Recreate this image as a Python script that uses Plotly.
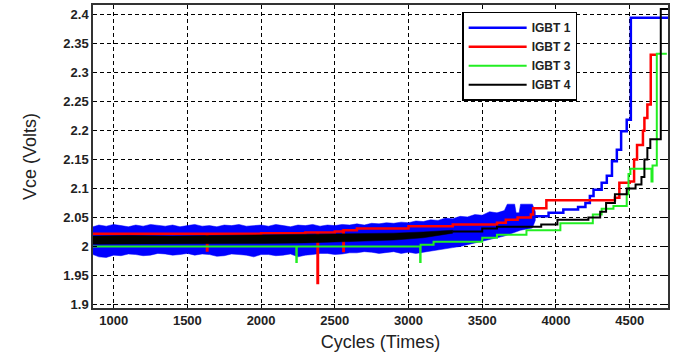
import plotly.graph_objects as go

# ---------------- data ----------------
# Noisy bands (upper / lower envelopes)
blue_band_x = [860, 900, 950, 1000, 1050, 1100, 1150, 1200, 1250, 1300, 1350, 1400, 1450, 1500,
               1550, 1600, 1650, 1700, 1750, 1800, 1850, 1900, 1950, 2000, 2050, 2100, 2150, 2200,
               2250, 2300, 2350, 2400, 2450, 2500, 2550, 2600, 2650, 2700, 2750, 2800, 2850, 2900,
               2950, 3000, 3050, 3100, 3150, 3200, 3250, 3300, 3350, 3400, 3450, 3500, 3550, 3600,
               3650, 3670, 3720, 3730, 3750, 3760, 3840, 3860]
blue_band_hi = [2.034, 2.037, 2.035, 2.038, 2.036, 2.034, 2.037, 2.035, 2.038, 2.036, 2.035, 2.037,
                2.034, 2.036, 2.038, 2.035, 2.036, 2.034, 2.037, 2.036, 2.038, 2.035, 2.036, 2.037,
                2.035, 2.038, 2.036, 2.034, 2.037, 2.036, 2.038, 2.035, 2.037, 2.036, 2.038, 2.037,
                2.039, 2.037, 2.040, 2.039, 2.041, 2.040, 2.042, 2.041, 2.044, 2.043, 2.046, 2.045,
                2.049, 2.048, 2.052, 2.051, 2.055, 2.054, 2.060, 2.058, 2.062, 2.073, 2.073, 2.058,
                2.058, 2.073, 2.073, 2.060]
blue_band_lo = [1.986, 1.982, 1.981, 1.985, 1.984, 1.987, 1.986, 1.984, 1.985, 1.988, 1.987, 1.985,
                1.986, 1.988, 1.985, 1.987, 1.986, 1.983, 1.984, 1.987, 1.986, 1.985, 1.982, 1.986,
                1.986, 1.984, 1.985, 1.987, 1.982, 1.985, 1.986, 1.988, 1.988, 1.986, 1.987, 1.989,
                1.989, 1.991, 1.990, 1.988, 1.989, 1.991, 1.988, 1.990, 1.988, 1.991, 1.993, 1.995,
                1.996, 1.998, 2.000, 2.003, 2.006, 2.008, 2.012, 2.015, 2.018, 2.020, 2.024, 2.026,
                2.027, 2.028, 2.032, 2.045]

black_band_x = [860, 1100, 1400, 1700, 2000, 2300, 2600, 2900, 3100, 3300]
black_band_hi = [2.018, 2.019, 2.018, 2.019, 2.019, 2.020, 2.021, 2.023, 2.025, 2.028]
black_band_lo = [2.004, 2.005, 2.004, 2.005, 2.005, 2.006, 2.008, 2.011, 2.015, 2.023]

# Step traces
igbt1_x = [3840, 3950, 4050, 4150, 4200, 4230, 4255, 4310, 4345, 4380, 4413, 4442, 4480, 4508, 4760]
igbt1_y = [2.052, 2.058, 2.064, 2.068, 2.075, 2.087, 2.098, 2.110, 2.122, 2.147, 2.167, 2.199, 2.219, 2.395, 2.395]

igbt2_x = [860, 1500, 1630, 1633, 1636, 2000, 2300, 2380, 2383, 2386, 2500, 2555, 2558, 2561,
           2650, 3000, 3300, 3600, 3660, 3740, 3830, 3845, 3935, 4400, 4430, 4500, 4530, 4550,
           4590, 4600, 4620, 4643, 4680]
igbt2_y = [2.022, 2.022, 2.022, 1.993, 2.022, 2.023, 2.024, 2.024, 1.937, 2.024, 2.026, 2.027, 1.992, 2.028,
           2.031, 2.035, 2.038, 2.041, 2.046, 2.050, 2.055, 2.066, 2.080, 2.084, 2.110, 2.112, 2.150, 2.175,
           2.200, 2.222, 2.245, 2.331, 2.331]

igbt3_x = [860, 2236, 2239, 2242, 3076, 3079, 3082, 3170, 3500, 3600, 3800, 4030, 4250, 4310,
           4390, 4480, 4492, 4505, 4648, 4655, 4684, 4752]
igbt3_y = [2.000, 2.000, 1.973, 2.000, 2.000, 1.973, 2.003, 2.008, 2.015, 2.020, 2.028, 2.040, 2.055, 2.065,
           2.070, 2.090, 2.125, 2.134, 2.112, 2.140, 2.333, 2.333]

igbt4_x = [3300, 3500, 3600, 3900, 4010, 4220, 4300, 4340, 4400, 4480, 4540, 4580, 4600, 4620,
           4640, 4711, 4760]
igbt4_y = [2.026, 2.031, 2.034, 2.038, 2.046, 2.050, 2.060, 2.075, 2.090, 2.100, 2.107, 2.120, 2.150, 2.170,
           2.185, 2.410, 2.410]

names = ["IGBT 1", "IGBT 2", "IGBT 3", "IGBT 4"]
colors = ["#0000ff", "#ff0000", "#22ee22", "#000000"]

x_ticks = [1000, 1500, 2000, 2500, 3000, 3500, 4000, 4500]
y_ticks = [1.9, 1.95, 2.0, 2.05, 2.1, 2.15, 2.2, 2.25, 2.3, 2.35, 2.4]
y_tick_text = ["1.9", "1.95", "2", "2.05", "2.1", "2.15", "2.2", "2.25", "2.3", "2.35", "2.4"]

# ---------------- figure ----------------
fig = go.Figure()

def band(xs, hi, lo, color):
    fig.add_trace(go.Scatter(
        x=xs + xs[::-1], y=hi + lo[::-1], fill="toself", fillcolor=color,
        mode="lines", line=dict(width=0.5, color=color), showlegend=False, hoverinfo="skip"))

band(blue_band_x, blue_band_hi, blue_band_lo, colors[0])
fig.add_trace(go.Scatter(x=igbt1_x, y=igbt1_y, name=names[0], mode="lines", line_shape="hv",
                         line=dict(color=colors[0], width=2.5)))
fig.add_trace(go.Scatter(x=igbt2_x, y=igbt2_y, name=names[1], mode="lines", line_shape="hv",
                         line=dict(color=colors[1], width=2.5)))
fig.add_trace(go.Scatter(x=igbt3_x, y=igbt3_y, name=names[2], mode="lines", line_shape="hv",
                         line=dict(color=colors[2], width=2)))
band(black_band_x, black_band_hi, black_band_lo, colors[3])
fig.add_trace(go.Scatter(x=igbt4_x, y=igbt4_y, name=names[3], mode="lines", line_shape="hv",
                         line=dict(color=colors[3], width=2)))

tick_font = dict(family="Liberation Sans, Arial, sans-serif", size=13, color="#222", weight="bold")
title_font = dict(family="Liberation Sans, Arial, sans-serif", size=18, color="#222")

fig.update_layout(
    width=686, height=356,
    margin=dict(l=93, r=18, t=3, b=48),
    paper_bgcolor="white", plot_bgcolor="white",
    showlegend=True,
    legend=dict(x=0.642, y=0.978, xanchor="left", yanchor="top",
                bgcolor="white", bordercolor="black", borderwidth=1.5,
                font=dict(family="Liberation Sans, Arial, sans-serif", size=12, color="#222", weight="bold"),
                itemwidth=58, tracegroupgap=0),
    xaxis=dict(range=[860, 4760], tickvals=x_ticks, showgrid=True, gridcolor="black",
               griddash="4px,3px", gridwidth=1, showline=True, linecolor="#333", linewidth=1.5,
               mirror="ticks", ticks="inside", ticklen=4, tickcolor="black",
               tickfont=tick_font, zeroline=False,
               title=dict(text="Cycles (Times)", font=title_font, standoff=8)),
    yaxis=dict(range=[1.8937, 2.417], tickvals=y_ticks, ticktext=y_tick_text, showgrid=True,
               gridcolor="black", griddash="4px,3px", gridwidth=1, showline=True, linecolor="#333",
               linewidth=1.5, mirror="ticks", ticks="inside", ticklen=4, tickcolor="black",
               tickfont=tick_font, zeroline=False,
               title=dict(text="Vce (Volts)", font=title_font, standoff=22)),
)

fig.write_html("out.html")
